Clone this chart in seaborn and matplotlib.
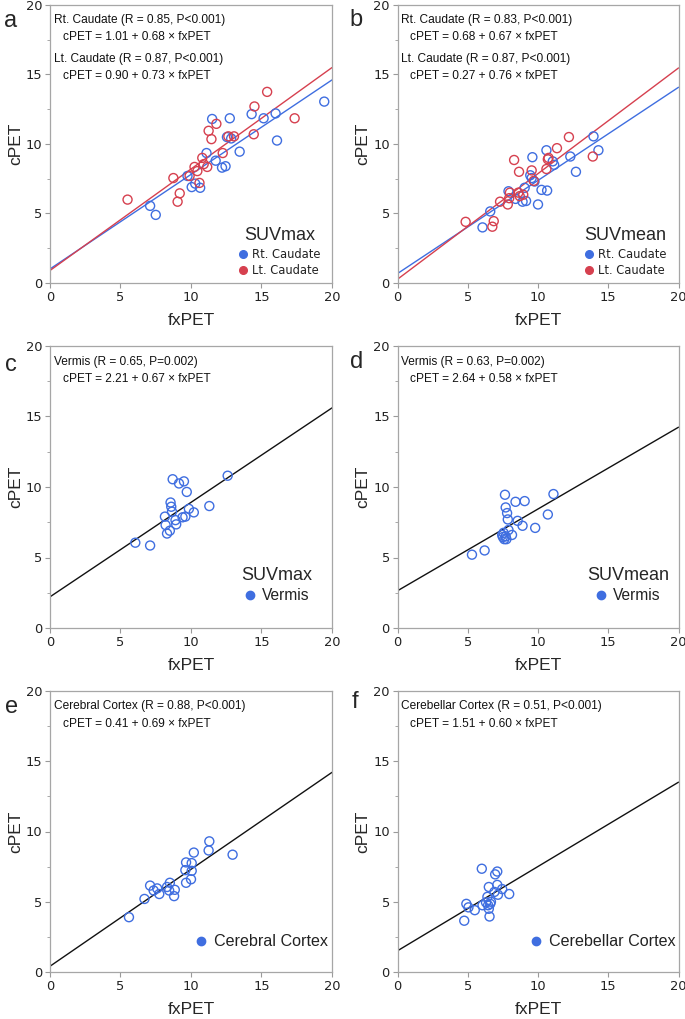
import numpy as np
import matplotlib
matplotlib.use('Agg')
import matplotlib.pyplot as plt
from matplotlib.lines import Line2D
from matplotlib.ticker import MultipleLocator
import seaborn as sns

sns.set_style('white')
plt.rcParams['font.family'] = ['Liberation Sans', 'DejaVu Sans']

BLUE = '#3f6ee0'
RED = '#d6404f'
BLACK = '#111111'

# ---- data ----
# a: SUVmax caudate
a_rt_x = [7.1, 7.5, 9.75, 10.05, 10.3, 10.65, 11.1, 11.75, 11.5, 12.2, 12.45, 12.55, 12.75, 12.85, 13.45, 14.3, 15.15, 16.0, 16.1, 19.45]
a_rt_y = [5.55, 4.9, 7.7, 6.9, 7.15, 6.85, 9.35, 8.8, 11.8, 8.3, 8.4, 10.5, 11.85, 10.4, 9.45, 12.15, 11.85, 12.2, 10.25, 13.05]
a_lt_x = [5.5, 8.75, 9.05, 9.2, 9.9, 10.25, 10.45, 10.6, 10.8, 10.9, 11.15, 11.25, 11.45, 11.8, 12.25, 12.65, 13.05, 14.45, 14.5, 15.4, 17.35]
a_lt_y = [6.0, 7.55, 5.85, 6.45, 7.7, 8.35, 8.05, 7.2, 9.0, 8.55, 8.35, 10.95, 10.35, 11.45, 9.35, 10.55, 10.55, 10.7, 12.7, 13.75, 11.85]

# b: SUVmean caudate
b_rt_x = [6.05, 6.6, 7.9, 8.4, 8.9, 9.15, 9.05, 9.45, 9.55, 9.6, 9.75, 10.0, 10.25, 10.65, 10.6, 11.05, 11.15, 12.3, 12.7, 13.95, 14.3]
b_rt_y = [4.0, 5.15, 6.6, 6.05, 5.85, 5.9, 6.85, 7.75, 7.55, 9.05, 7.3, 5.65, 6.7, 6.65, 9.55, 8.75, 8.5, 9.1, 8.0, 10.55, 9.55]
b_lt_x = [4.85, 6.75, 6.85, 7.3, 7.85, 7.95, 8.0, 8.3, 8.6, 8.65, 8.7, 8.95, 9.55, 9.7, 10.6, 10.7, 10.75, 11.35, 12.2, 13.9]
b_lt_y = [4.4, 4.05, 4.45, 5.85, 5.65, 6.1, 6.5, 8.85, 6.5, 8.0, 6.25, 6.35, 8.1, 7.35, 8.2, 8.9, 9.0, 9.7, 10.5, 9.1]

# c: SUVmax vermis
c_x = [6.05, 7.1, 8.15, 8.2, 8.3, 8.5, 8.55, 8.6, 8.65, 8.7, 8.9, 8.95, 9.15, 9.4, 9.5, 9.6, 9.7, 9.85, 10.2, 11.3, 12.6]
c_y = [6.05, 5.85, 7.9, 7.3, 6.7, 6.9, 8.9, 8.6, 8.25, 10.55, 7.65, 7.35, 10.25, 7.85, 10.4, 7.9, 9.65, 8.45, 8.2, 8.65, 10.8]

# d: SUVmean vermis
d_x = [5.3, 6.2, 7.45, 7.5, 7.55, 7.6, 7.65, 7.7, 7.7, 7.75, 7.8, 7.85, 7.9, 8.15, 8.4, 8.55, 8.9, 9.05, 9.8, 10.7, 11.1]
d_y = [5.2, 5.5, 6.6, 6.45, 6.75, 6.3, 9.45, 8.55, 6.5, 6.3, 8.15, 7.7, 6.95, 6.6, 8.95, 7.6, 7.25, 9.0, 7.1, 8.05, 9.5]

# e: cerebral cortex
e_x = [5.6, 6.7, 7.1, 7.35, 7.6, 7.75, 8.3, 8.45, 8.5, 8.8, 8.85, 9.6, 9.65, 9.65, 10.0, 10.05, 10.05, 10.2, 11.25, 11.3, 12.95]
e_y = [3.9, 5.2, 6.15, 5.8, 5.95, 5.55, 6.05, 5.8, 6.35, 5.4, 5.85, 7.25, 6.35, 7.8, 6.6, 7.2, 7.75, 8.5, 8.65, 9.3, 8.35]

# f: cerebellar cortex
f_x = [4.75, 4.9, 5.05, 5.5, 6.0, 6.05, 6.3, 6.4, 6.45, 6.5, 6.5, 6.55, 6.6, 6.65, 6.9, 6.95, 7.1, 7.1, 7.15, 7.45, 7.95]
f_y = [3.65, 4.85, 4.6, 4.4, 7.35, 4.75, 4.95, 5.35, 4.75, 6.05, 4.5, 3.95, 4.85, 5.0, 5.7, 6.95, 7.15, 6.2, 5.5, 5.9, 5.55]

# regression equations (intercept, slope) as printed
a_fit = [(1.01, 0.68), (0.90, 0.73)]
b_fit = [(0.68, 0.67), (0.27, 0.76)]
c_fit = [(2.21, 0.67)]
d_fit = [(2.64, 0.58)]
e_fit = [(0.41, 0.69)]
f_fit = [(1.51, 0.60)]

a_notes = ['Rt. Caudate (R = 0.85, P<0.001)', 'cPET = 1.01 + 0.68 × fxPET',
           'Lt. Caudate (R = 0.87, P<0.001)', 'cPET = 0.90 + 0.73 × fxPET']
b_notes = ['Rt. Caudate (R = 0.83, P<0.001)', 'cPET = 0.68 + 0.67 × fxPET',
           'Lt. Caudate (R = 0.87, P<0.001)', 'cPET = 0.27 + 0.76 × fxPET']
c_notes = ['Vermis (R = 0.65, P=0.002)', 'cPET = 2.21 + 0.67 × fxPET']
d_notes = ['Vermis (R = 0.63, P=0.002)', 'cPET = 2.64 + 0.58 × fxPET']
e_notes = ['Cerebral Cortex (R = 0.88, P<0.001)', 'cPET = 0.41 + 0.69 × fxPET']
f_notes = ['Cerebellar Cortex (R = 0.51, P<0.001)', 'cPET = 1.51 + 0.60 × fxPET']

W, H = 685, 1019
fig = plt.figure(figsize=(W / 100, H / 100), dpi=100)


def px_axes(left, top, w, h):
    return fig.add_axes([left / W, 1 - (top + h) / H, w / W, h / H])


def draw(ax, series, fits, line_colors, notes):
    for (xs, ys, col) in series:
        sns.scatterplot(x=xs, y=ys, ax=ax, color=col, edgecolor=col, s=42,
                        linewidth=1.0, zorder=3, legend=False)
        ax.collections[-1].set_facecolor('none')
    xx = np.array([0.0, 20.0])
    for (b0, b1), col in zip(fits, line_colors):
        sns.lineplot(x=xx, y=b0 + b1 * xx, ax=ax, color=col, lw=1.0, zorder=2)
    ax.set_xlim(0, 20)
    ax.set_ylim(0, 20)
    ax.xaxis.set_major_locator(MultipleLocator(5))
    ax.yaxis.set_major_locator(MultipleLocator(5))
    ax.yaxis.set_minor_locator(MultipleLocator(2.5))
    ax.tick_params(axis='both', which='major', direction='out', length=3.5, width=0.8,
                   color='#9a9a9a', labelsize=9.4, labelcolor='#222222', pad=2,
                   left=True, bottom=True)
    ax.tick_params(axis='y', which='minor', direction='out', length=2, width=0.6,
                   color='#9a9a9a', left=True)
    for lab in ax.get_xticklabels() + ax.get_yticklabels():
        lab.set_family('DejaVu Sans')
    for sp in ax.spines.values():
        sp.set_color('#a6a6a6')
        sp.set_linewidth(0.9)
    ax.set_xlabel('fxPET', fontsize=12.5, labelpad=7)
    ax.set_ylabel('cPET', fontsize=12.5, labelpad=2)
    ys_note = [0.945, 0.884, 0.805, 0.744]
    for i, t in enumerate(notes):
        ax.text(0.014 if i % 2 == 0 else 0.045, ys_note[i], t, transform=ax.transAxes,
                fontsize=8.6, va='center', ha='left', color='#111111')


def legend(ax, labels, colors, title, center, size, title_size, msize):
    handles = [Line2D([], [], ls='none', marker='o', markersize=msize,
                      markerfacecolor=c, markeredgecolor=c) for c in colors]
    leg = ax.legend(handles, labels, title=title, loc='center', bbox_to_anchor=center,
                    frameon=False, handlelength=0.7, handletextpad=0.45,
                    labelspacing=0.3, borderpad=0, borderaxespad=0,
                    prop={'size': size, 'family': 'DejaVu Sans' if size < 10 else 'Liberation Sans'},
                    title_fontproperties={'size': title_size, 'family': 'Liberation Sans'})
    for t in leg.get_texts():
        t.set_color('#222222')
    return leg


ax_a = px_axes(50, 5, 282, 278)
draw(ax_a, [(a_rt_x, a_rt_y, BLUE), (a_lt_x, a_lt_y, RED)], a_fit, [BLUE, RED], a_notes)
legend(ax_a, ['Rt. Caudate', 'Lt. Caudate'], [BLUE, RED], 'SUVmax', (0.815, 0.11), 8.3, 13, 5.5)

ax_b = px_axes(397.5, 5, 281, 278)
draw(ax_b, [(b_rt_x, b_rt_y, BLUE), (b_lt_x, b_lt_y, RED)], b_fit, [BLUE, RED], b_notes)
legend(ax_b, ['Rt. Caudate', 'Lt. Caudate'], [BLUE, RED], 'SUVmean', (0.812, 0.11), 8.3, 13, 5.5)

ax_c = px_axes(50, 346, 282, 282)
draw(ax_c, [(c_x, c_y, BLUE)], c_fit, [BLACK], c_notes)
legend(ax_c, ['Vermis'], [BLUE], 'SUVmax', (0.805, 0.152), 11.2, 13, 6)

ax_d = px_axes(397.5, 346, 281, 282)
draw(ax_d, [(d_x, d_y, BLUE)], d_fit, [BLACK], d_notes)
legend(ax_d, ['Vermis'], [BLUE], 'SUVmean', (0.82, 0.152), 11.2, 13, 6)

ax_e = px_axes(50, 691, 282, 281)
draw(ax_e, [(e_x, e_y, BLUE)], e_fit, [BLACK], e_notes)
legend(ax_e, ['Cerebral Cortex'], [BLUE], None, (0.752, 0.108), 11.6, 13, 6)

ax_f = px_axes(397.5, 691, 281, 281)
draw(ax_f, [(f_x, f_y, BLUE)], f_fit, [BLACK], f_notes)
legend(ax_f, ['Cerebellar Cortex'], [BLUE], None, (0.73, 0.108), 11.6, 13, 6)

letters = [('a', 11, 21), ('b', 356, 20), ('c', 11, 365), ('d', 357, 362), ('e', 12, 707), ('f', 355, 702)]
for ch, lx, ly in letters:
    fig.text(lx / W, 1 - ly / H, ch, fontsize=17, ha='center', va='center',
             family='Liberation Sans')

fig.savefig('out.png', dpi=100)
